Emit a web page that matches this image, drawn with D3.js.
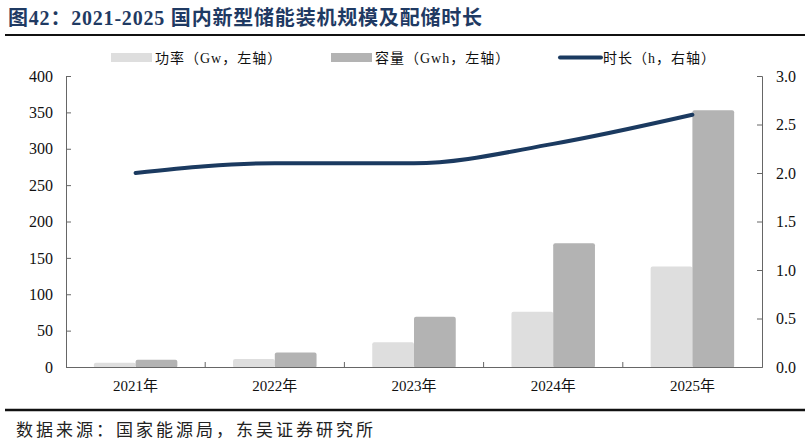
<!DOCTYPE html>
<html><head><meta charset="utf-8">
<script src="https://cdn.jsdelivr.net/npm/d3@7"></script>
<style>
body{margin:0;background:#fff;}
svg{display:block;}
</style></head>
<body>
<svg id="c" width="805" height="444"></svg>
<script>
const categories = ["2021年","2022年","2023年","2024年","2025年"];
const power = [6, 11, 34, 76, 138];          // 功率 GW, left axis
const capacity = [10, 20, 69, 170, 353];     // 容量 GWh, left axis
const duration = [2.0, 2.1, 2.1, 2.3, 2.6];  // 时长 h, right axis
const leftTicks = [0,50,100,150,200,250,300,350,400];
const rightTicks = [0,0.5,1.0,1.5,2.0,2.5,3.0];
const seriesNames = ["功率（Gw，左轴）","容量（Gwh，左轴）","时长（h，右轴）"];
const title = "图42：2021-2025 国内新型储能装机规模及配储时长";
const source = "数据来源：国家能源局，东吴证券研究所";

const svg = d3.select("#c");
const L = 66, R = 762, T = 76, B = 367;
const serif = "'Liberation Serif','Times New Roman',serif";
const cjk = "'Noto Sans CJK SC',sans-serif";
const navy = "#1b3a60";

// title
svg.append("text").attr("x",8).attr("y",25)
  .attr("font-family",serif+","+cjk).attr("font-weight","bold").attr("font-size",20)
  .attr("letter-spacing",0.8)
  .attr("fill","#1f3a63").text(title);
svg.append("line").attr("x1",5).attr("x2",805).attr("y1",35).attr("y2",35)
  .attr("stroke","#111").attr("stroke-width",2);
svg.append("line").attr("x1",5).attr("x2",805).attr("y1",410).attr("y2",410)
  .attr("stroke","#111").attr("stroke-width",2.5);
svg.append("text").attr("x",16).attr("y",436)
  .attr("font-family",cjk).attr("font-size",17).attr("letter-spacing",3)
  .attr("fill","#222").text(source);

const x = d3.scaleBand().domain(categories).range([L,R]).paddingInner(0).paddingOuter(0);
const inner = d3.scaleBand().domain([0,1]).range([0,x.bandwidth()]).paddingOuter(0.667).paddingInner(0);
const yL = d3.scaleLinear().domain([0,400]).range([B,T]);
const yR = d3.scaleLinear().domain([0,3]).range([B,T]);

// bars
const colors = ["#dedede","#b3b3b3"];
[power, capacity].forEach((vals,si)=>{
  svg.append("g").selectAll("rect").data(vals).join("rect")
    .attr("x",(d,i)=>x(categories[i])+inner(si))
    .attr("width",inner.bandwidth())
    .attr("y",d=>yL(d))
    .attr("height",d=>B-yL(d)+1)
    .attr("rx",2)
    .attr("fill",colors[si]);
});

// axes
const axisColor = "#666";
const gL = svg.append("g").attr("transform",`translate(${L},0)`)
  .call(d3.axisRight(yL).tickValues(leftTicks).tickSize(5).tickFormat(d3.format("d")));
gL.selectAll("text").attr("x",-13).attr("text-anchor","end");
const gR = svg.append("g").attr("transform",`translate(${R},0)`)
  .call(d3.axisLeft(yR).tickValues(rightTicks).tickSize(5).tickFormat(d3.format(".1f")));
gR.selectAll("text").attr("x",14).attr("text-anchor","start");
const gX = svg.append("g").attr("transform",`translate(0,${B})`)
  .call(d3.axisTop(x).tickSize(0).tickFormat(""));
// boundary ticks
const bounds = categories.slice(1).map(c=>x(c));
svg.append("g").selectAll("line").data(bounds).join("line")
  .attr("x1",d=>d).attr("x2",d=>d).attr("y1",B).attr("y2",B-5)
  .attr("stroke",axisColor);
svg.append("g").selectAll("text").data(categories).join("text")
  .attr("x",d=>x(d)+x.bandwidth()/2).attr("y",391).attr("text-anchor","middle")
  .attr("font-family",serif+","+cjk).attr("font-size",15).attr("fill","#111").text(d=>d);

[gL,gR,gX].forEach(g=>{
  g.select(".domain").attr("stroke",axisColor);
  g.selectAll(".tick line").attr("stroke",axisColor);
  g.selectAll("text").attr("font-family",serif).attr("font-size",16).attr("fill","#111");
});

// line
const line = d3.line()
  .x((d,i)=>x(categories[i])+x.bandwidth()/2)
  .y(d=>yR(d))
  .curve(d3.curveMonotoneX);
svg.append("path").datum(duration).attr("d",line)
  .attr("fill","none").attr("stroke",navy).attr("stroke-width",4).attr("stroke-linecap","round");

// legend
const lg = svg.append("g");
const leg = [
  {x:111, type:"rect", c:colors[0], tx:155},
  {x:331, type:"rect", c:colors[1], tx:375},
  {x:560, type:"line", c:navy, tx:603}
];
leg.forEach((l,i)=>{
  if(l.type==="rect"){
    lg.append("rect").attr("x",l.x).attr("y",53).attr("width",41).attr("height",9).attr("fill",l.c);
  } else {
    lg.append("line").attr("x1",l.x).attr("x2",l.x+41).attr("y1",57.5).attr("y2",57.5)
      .attr("stroke",l.c).attr("stroke-width",4).attr("stroke-linecap","round");
  }
  lg.append("text").attr("x",l.tx).attr("y",62.5)
    .attr("font-family",serif+","+cjk).attr("font-size",14).attr("letter-spacing",1).attr("fill","#111").text(seriesNames[i]);
});
</script>
</body></html>
